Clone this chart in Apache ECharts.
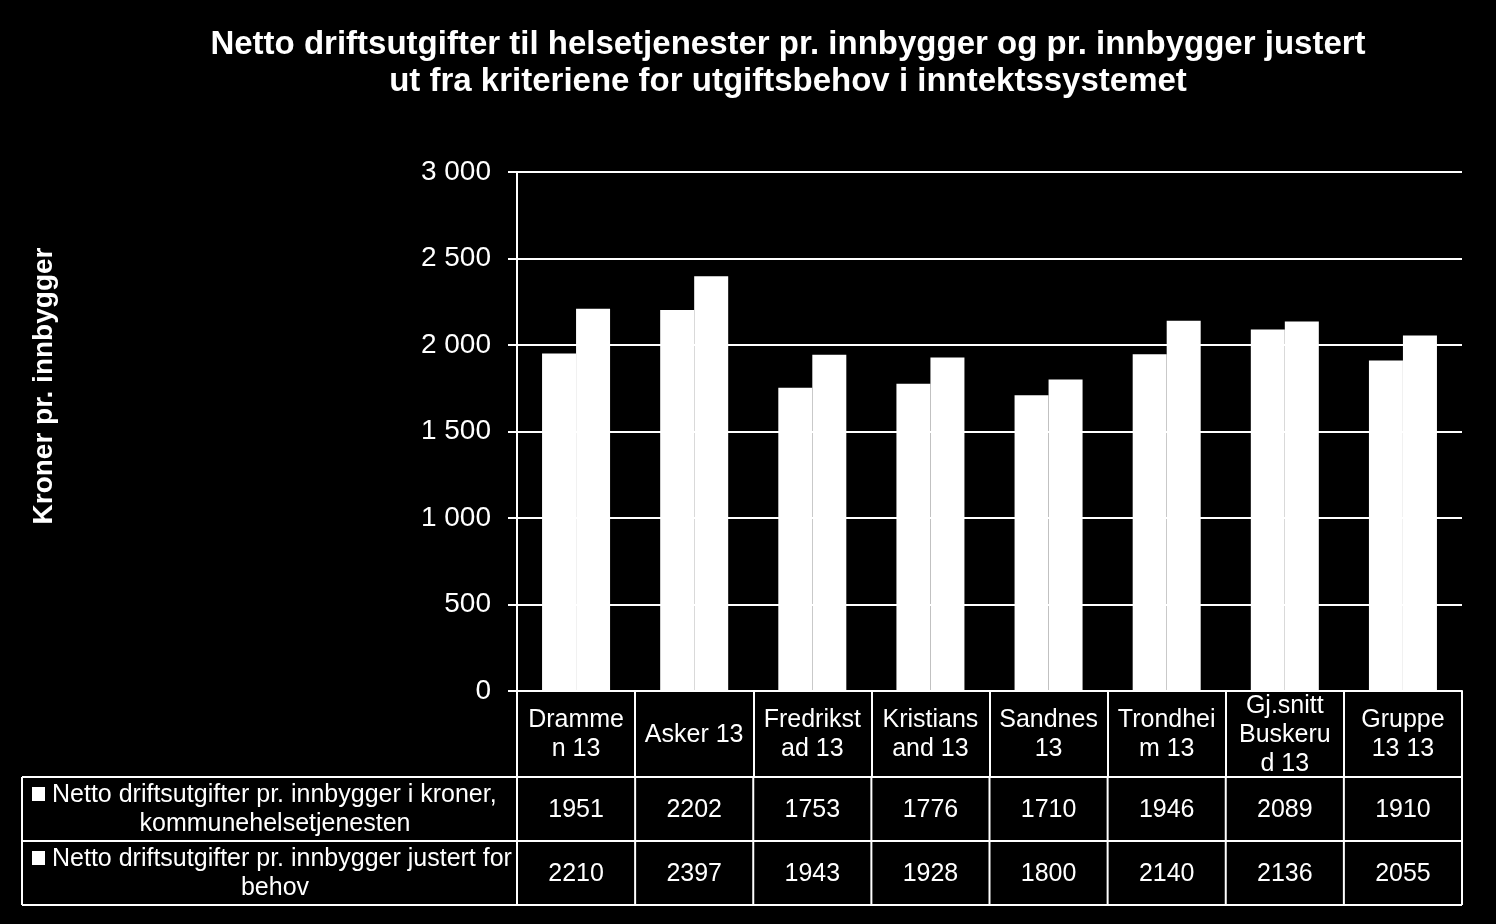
<!DOCTYPE html>
<html><head><meta charset="utf-8">
<script src="https://cdn.jsdelivr.net/npm/echarts@6/dist/echarts.min.js"></script>
<style>html,body{margin:0;padding:0;background:#000;}#c{width:1496px;height:924px;}</style>
</head><body><div id="c"></div>
<script>
var categories = ["Drammen 13","Asker 13","Fredrikstad 13","Kristiansand 13","Sandnes 13","Trondheim 13","Gj.snitt Buskerud 13","Gruppe 13 13"];
var categoryLabels = ["Dramme\nn 13","Asker 13","Fredrikst\nad 13","Kristians\nand 13","Sandnes\n13","Trondhei\nm 13","Gj.snitt\nBuskeru\nd 13","Gruppe\n13 13"];
var seriesNames = ["Netto driftsutgifter pr. innbygger i kroner, kommunehelsetjenesten","Netto driftsutgifter pr. innbygger justert for behov"];
var seriesRowLabels = ["Netto driftsutgifter pr. innbygger i kroner,\nkommunehelsetjenesten","Netto driftsutgifter pr. innbygger justert for\nbehov"];
var expenses = [1951,2202,1753,1776,1710,1946,2089,1910];
var adjusted = [2210,2397,1943,1928,1800,2140,2136,2055];
var yTicks = [0,500,1000,1500,2000,2500,3000];
var yAxisTitle = "Kroner pr. innbygger";

var FONT = "'Liberation Sans', Arial, sans-serif";
var chart = echarts.init(document.getElementById('c'), null, {renderer:'canvas'});
var option = {
  backgroundColor:'#000',
  animation:false,
  title:{
    text:"Netto driftsutgifter til helsetjenester pr. innbygger og pr. innbygger justert\nut fra kriteriene for utgiftsbehov i inntektssystemet",
    left:783, top:21, textAlign:'center',
    textStyle:{color:'#fff',fontFamily:FONT,fontWeight:'bold',fontSize:33,lineHeight:37}
  },
  grid:{left:517,right:34,top:172,bottom:233,containLabel:false},
  xAxis:{
    type:'category', data:categories,
    axisLine:{show:true,lineStyle:{color:'#fff',width:2}},
    axisTick:{show:true,length:86,lineStyle:{color:'#fff',width:2}},
    axisLabel:{
      color:'#fff',fontFamily:FONT,fontSize:25,lineHeight:29,margin:44,
      verticalAlign:'middle',align:'center',interval:0,
      formatter:function(v,i){return categoryLabels[i];}
    }
  },
  yAxis:{
    type:'value',min:yTicks[0],max:yTicks[yTicks.length-1],interval:500,
    axisLine:{show:true,lineStyle:{color:'#fff',width:2}},
    axisTick:{show:true,length:9,lineStyle:{color:'#fff',width:2}},
    axisLabel:{color:'#fff',fontFamily:FONT,fontSize:28,margin:26,
      formatter:function(v){return String(v).replace(/\B(?=(\d{3})+(?!\d))/g,' ');}},
    splitLine:{show:true,lineStyle:{color:'#fff',width:2}}
  },
  series:[
    {name:seriesNames[0],type:'bar',data:expenses,barWidth:34,barGap:'0%',itemStyle:{color:'#fff',borderColor:'#fff',borderWidth:2}},
    {name:seriesNames[1],type:'bar',data:adjusted,barWidth:34,barGap:'0%',itemStyle:{color:'#fff',borderColor:'#fff',borderWidth:2}}
  ]
};
chart.setOption(option);

// Data table below the axis
var rows = [expenses, adjusted];
var rowTop = [777, 841];
var rowBottom = 905;
var tableLeft = 22;
var c0 = chart.convertToPixel({xAxisIndex:0}, 0);
var c1 = chart.convertToPixel({xAxisIndex:0}, 1);
var band = c1 - c0;
var gridLeft = c0 - band/2;
var gridRight = gridLeft + band*categories.length;
var els = [];
var lineStyle = {stroke:'#fff',lineWidth:2};
els.push({type:'text',x:44,y:386,rotation:Math.PI/2,style:{text:yAxisTitle,x:0,y:0,textAlign:'center',textVerticalAlign:'middle',fill:'#fff',font:'bold 28px '+FONT}});
[777,841,905].forEach(function(y){
  els.push({type:'line',shape:{x1:tableLeft,y1:y,x2:gridRight,y2:y},style:lineStyle,silent:true});
});
els.push({type:'line',shape:{x1:tableLeft,y1:777,x2:tableLeft,y2:rowBottom},style:lineStyle,silent:true});
for(var b=0;b<=categories.length;b++){
  var x = gridLeft + band*b;
  els.push({type:'line',shape:{x1:x,y1:777,x2:x,y2:rowBottom},style:lineStyle,silent:true});
}
rows.forEach(function(vals,r){
  var top = rowTop[r], bottom = (r===0?rowTop[1]:rowBottom);
  var cy = (top+bottom)/2;
  var lines = seriesRowLabels[r].split('\n');
  els.push({type:'text',style:{text:lines[0],x:52,y:cy-14,textAlign:'left',textVerticalAlign:'middle',fill:'#fff',font:'25px '+FONT}});
  els.push({type:'text',style:{text:lines[1],x:275,y:cy+15,textAlign:'center',textVerticalAlign:'middle',fill:'#fff',font:'25px '+FONT}});
  els.push({type:'rect',shape:{x:32,y:cy-22,width:13,height:14},style:{fill:'#fff'},silent:true});
  vals.forEach(function(v,i){
    var x = chart.convertToPixel({xAxisIndex:0}, i);
    els.push({type:'text',style:{text:String(v),x:x,y:cy+1,textAlign:'center',textVerticalAlign:'middle',fill:'#fff',font:'25px '+FONT}});
  });
});
chart.setOption({graphic:{elements:els}});
</script>
</body></html>
